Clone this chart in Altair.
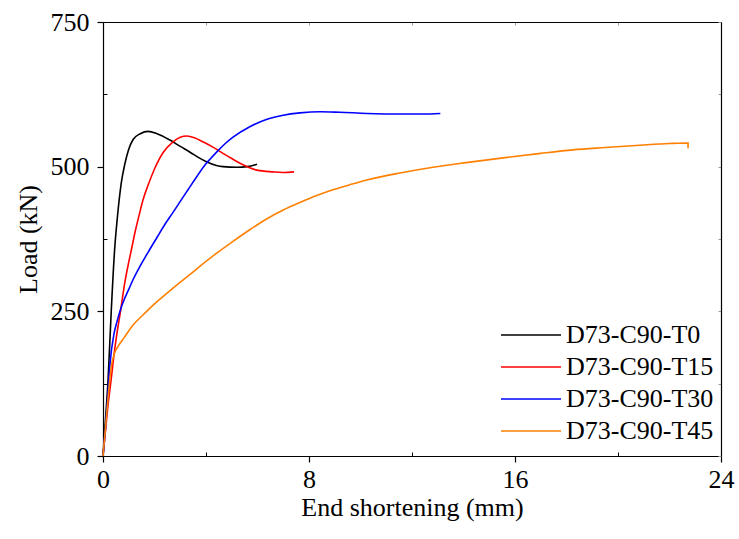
import altair as alt
import pandas as pd

# ---- data ----
t0_x = [0, 0.1, 0.19, 0.32, 0.45, 0.56, 0.71, 0.85, 0.99, 1.17, 1.45, 1.75, 2.1, 2.6, 3.0, 3.38, 3.7, 4.04, 4.4, 4.66, 5.2, 5.6, 5.98]
t0_y = [0, 65, 126, 250, 356, 413, 472, 505, 529, 547, 557, 561, 557, 546, 535, 525, 516, 508, 502, 500, 499, 500, 504]

t15_x = [0, 0.1, 0.2, 0.3, 0.45, 0.57, 0.68, 0.84, 1.0, 1.1, 1.25, 1.39, 1.55, 1.75, 2.0, 2.33, 2.72, 3.0, 3.26, 3.55, 3.88, 4.3, 4.66, 5.0, 5.32, 5.65, 5.98, 6.6, 7.0, 7.42]
t15_y = [0, 45, 90, 126, 183, 220, 250, 298, 335, 356, 388, 414, 442, 468, 496, 524, 543, 551, 553, 550, 543, 533, 523, 514, 506, 499, 494, 491, 490, 491]

t30_x = [0, 0.1, 0.18, 0.26, 0.43, 0.53, 0.65, 0.8, 1.0, 1.17, 1.44, 1.75, 2.1, 2.4, 2.72, 3.0, 3.3, 3.6, 3.96, 4.2, 4.43, 4.75, 5.05, 5.7, 6.37, 7.0, 7.65, 8.43, 9.2, 10.25, 11.5, 12.4, 13.1]
t30_y = [0, 50, 100, 154, 212, 230, 249, 268, 288, 305, 328, 352, 378, 400, 421, 440, 460, 480, 503, 515, 526, 540, 551, 569, 582, 589, 593, 595, 594, 592, 591, 591, 592]

t45_x = [0, 0.1, 0.19, 0.32, 0.45, 0.58, 0.75, 0.95, 1.2, 1.49, 2.0, 2.5, 2.91, 3.3, 3.77, 4.4, 5.05, 5.7, 6.37, 7.0, 7.65, 8.3, 8.93, 9.6, 10.25, 11.53, 12.82, 14.1, 15.69, 17.0, 18.25, 19.5, 20.85, 22.0, 22.72, 22.72]
t45_y = [0, 50, 97, 154, 178, 189, 200, 213, 228, 241, 263, 282, 297, 311, 328, 350, 371, 391, 410, 425, 438, 450, 460, 469, 477, 489, 499, 507, 516, 523, 529, 533, 537, 540, 541, 532]

series_names = ["D73-C90-T0", "D73-C90-T15", "D73-C90-T30", "D73-C90-T45"]
series_colors = ["#000000", "#ff0000", "#0000ff", "#ff8000"]
x_ticks = [0, 8, 16, 24]
y_ticks = [0, 250, 500, 750]
x_minor = [4, 12, 20]
y_minor = [125, 375, 625]

rows = []
for name, xs_, ys_ in zip(series_names, [t0_x, t15_x, t30_x, t45_x], [t0_y, t15_y, t30_y, t45_y]):
    for i, (a, b) in enumerate(zip(xs_, ys_)):
        rows.append({"series": name, "x": a, "y": b, "i": i})
df = pd.DataFrame(rows)

FONT = "Liberation Serif"
FS = 26
xs = alt.Scale(domain=[0, 24], nice=False)
ys = alt.Scale(domain=[0, 750], nice=False)

lines = alt.Chart(df).mark_line(strokeWidth=1.6, interpolate="monotone").encode(
    x=alt.X("x:Q", scale=xs, axis=alt.Axis(
        values=x_ticks, title="End shortening (mm)", tickSize=6, labelPadding=4,
        titlePadding=2, grid=False, domainColor="black", tickColor="black",
        domainWidth=1.2, tickWidth=1.2, labelFlush=False)),
    y=alt.Y("y:Q", scale=ys, axis=alt.Axis(
        values=y_ticks, title="Load (kN)", tickSize=6, labelPadding=8,
        titlePadding=9, grid=False, domainColor="black", tickColor="black",
        domainWidth=1.2, tickWidth=1.2, labelFlush=False)),
    color=alt.Color("series:N", scale=alt.Scale(domain=series_names, range=series_colors),
                    legend=alt.Legend(title=None, orient="none", legendX=415, legendY=300,
                                      symbolType="M-3,0H3", symbolSize=400, symbolStrokeWidth=1.5,
                                      labelFontSize=FS, labelFont=FONT, labelColor="black",
                                      rowPadding=6, labelOffset=22)),
    order="i:Q",
)

minor_df = pd.DataFrame({"x": x_minor, "y": y_minor})
minor_bottom = alt.Chart(minor_df).mark_point(opacity=0).encode(
    x=alt.X("x:Q", scale=xs, axis=alt.Axis(orient="bottom", values=x_minor, offset=-4, tickSize=4,
                                            domain=False, labels=False, title=None, grid=False,
                                            tickColor="black", tickWidth=1)),
    y=alt.Y("y:Q", scale=ys, axis=alt.Axis(orient="left", values=y_minor, offset=-4, tickSize=4,
                                            domain=False, labels=False, title=None, grid=False,
                                            tickColor="black", tickWidth=1)),
)
top_right = alt.Chart(minor_df).mark_point(opacity=0).encode(
    x=alt.X("x:Q", scale=xs, axis=alt.Axis(orient="top", values=x_ticks + x_minor, offset=-3, tickSize=3,
                                            domain=False, labels=False, title=None, grid=False,
                                            tickColor="#999999", tickWidth=1)),
    y=alt.Y("y:Q", scale=ys, axis=alt.Axis(orient="right", values=y_ticks + y_minor, offset=-3, tickSize=3,
                                            domain=False, labels=False, title=None, grid=False,
                                            tickColor="#999999", tickWidth=1)),
)
frame = alt.Chart(minor_df).mark_point(opacity=0).encode(
    x=alt.X("x:Q", scale=xs, axis=alt.Axis(orient="top", values=[], domain=True, labels=False, ticks=False,
                                            title=None, grid=False, domainColor="black", domainWidth=1.2)),
    y=alt.Y("y:Q", scale=ys, axis=alt.Axis(orient="right", values=[], domain=True, labels=False, ticks=False,
                                            title=None, grid=False, domainColor="black", domainWidth=1.2)),
)

chart = alt.layer(lines, minor_bottom, top_right, frame).resolve_scale(
    x="independent", y="independent"
).properties(
    width=618, height=434,
    background="white",
    autosize=alt.AutoSizeParams(type="none"),
    padding={"left": 103, "top": 22, "right": 18, "bottom": 83},
).configure_axis(
    labelFont=FONT, titleFont=FONT, labelFontSize=FS, titleFontSize=FS,
    labelColor="black", titleColor="black", titleFontWeight="normal",
).configure_view(stroke=None)

chart.save("out.html", embed_options={"renderer": "svg", "actions": False})
